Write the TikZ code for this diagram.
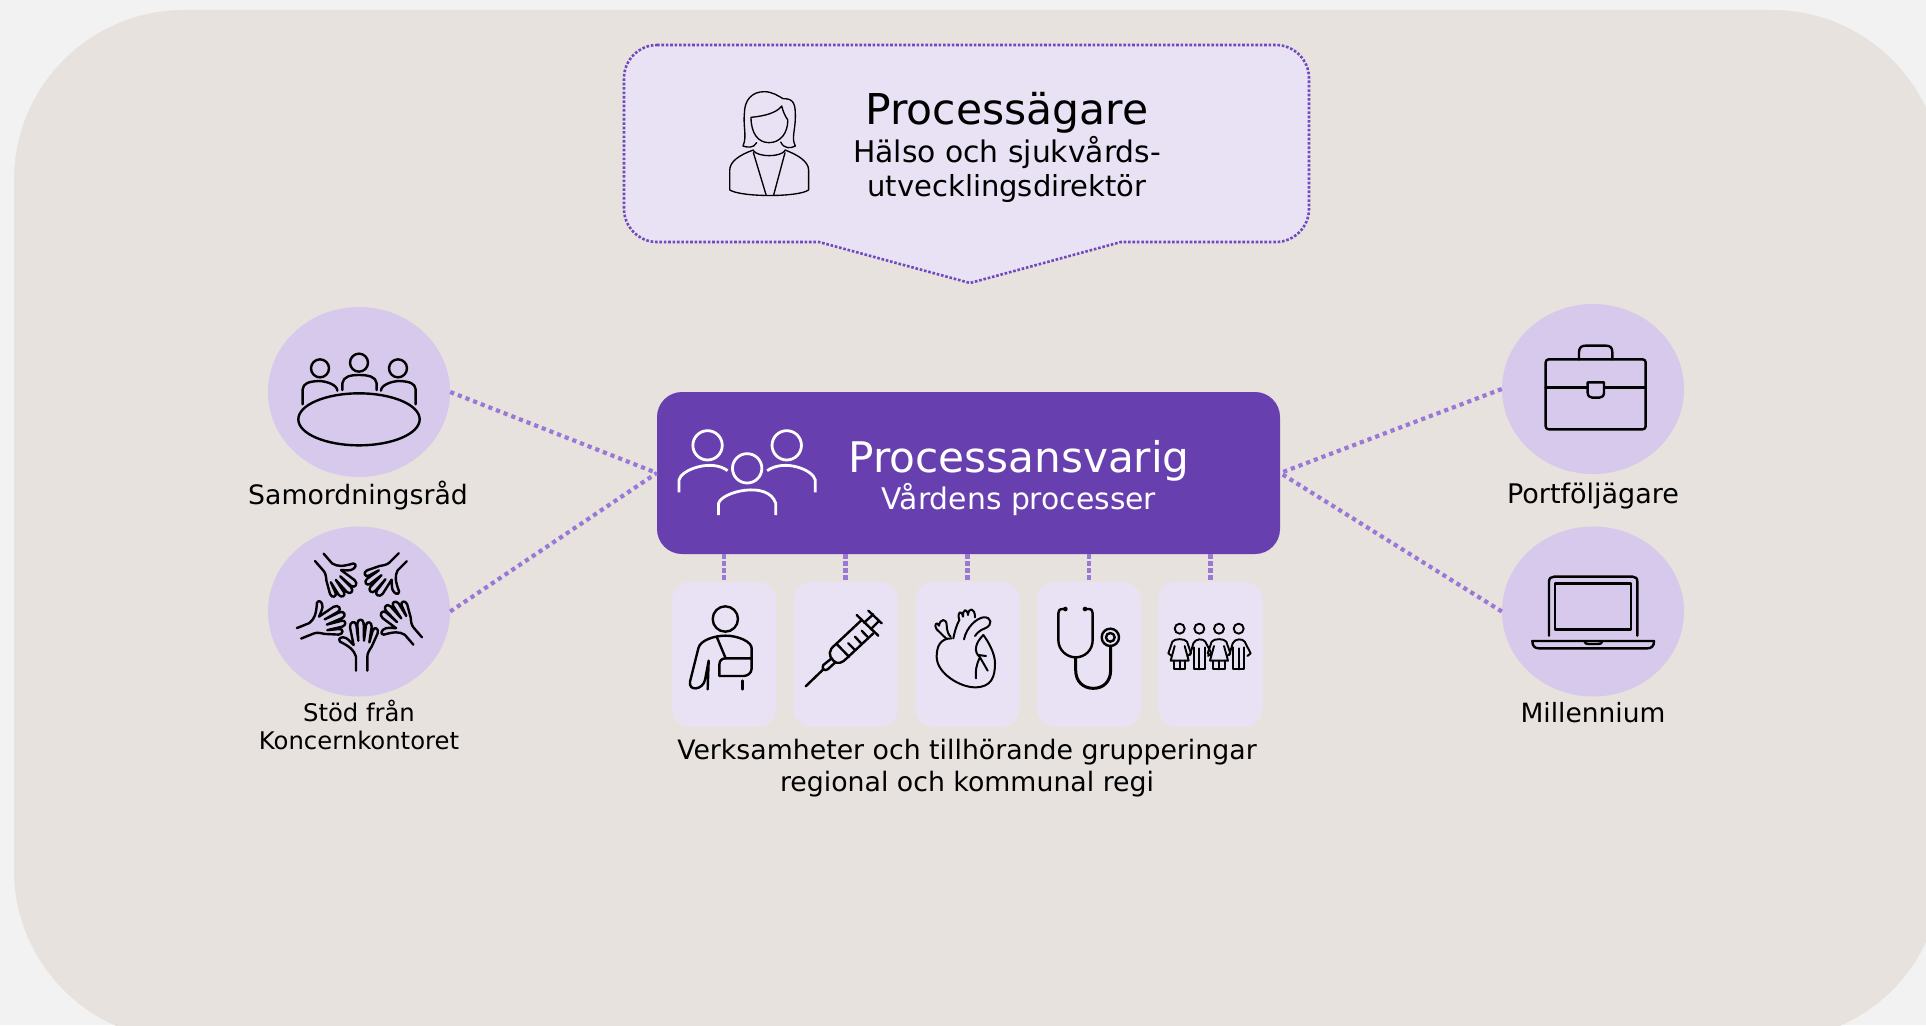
\documentclass[tikz,border=0pt]{standalone}
\usepackage{fontspec}
\setmainfont{DejaVu Sans}
\usetikzlibrary{shapes.geometric}
\definecolor{pagebg}{HTML}{F2F2F2}
\definecolor{panel}{HTML}{E7E2DE}
\definecolor{lilac}{HTML}{E9E2F5}
\definecolor{disc}{HTML}{D6C9EB}
\definecolor{violet}{HTML}{683FAE}
\definecolor{dotline}{HTML}{9A78D6}
\definecolor{edge}{HTML}{7048BF}
\newcommand{\fs}[1]{\fontsize{#1}{#1}\selectfont}
\tikzset{
  disc/.style={ellipse,fill=disc,minimum width=182pt,minimum height=170pt,inner sep=0pt},
  tile/.style={rectangle,fill=lilac,rounded corners=18pt,minimum width=104pt,minimum height=145pt,inner sep=0pt},
  link/.style={draw=dotline,line width=4.2pt,dash pattern=on 4.2pt off 4pt},
  stub/.style={draw=dotline,line width=4.5pt,dash pattern=on 4.5pt off 2.5pt},
  txt/.style={anchor=base,inner sep=0pt,text=black},
  ico/.style={draw=black,line width=2.4pt,line cap=round,line join=round},
  icothin/.style={draw=black,line width=1.35pt,line cap=round,line join=round},
  z3/.style={x=0.33333pt,y=-0.33333pt},
}
\newcommand{\handpath}{%
\draw[ico] (318,482) -- (318,440) .. controls (312,420) and (300,410) .. (270,395) .. controls (262,385) and (275,378) .. (288,384) .. controls (298,390) and (305,400) .. (311,405)
 -- (300,352) .. controls (298,335) and (316,330) .. (319,345) -- (325,392) -- (322,342) .. controls (322,325) and (340,325) .. (341,340) -- (342,392) -- (348,345) .. controls (350,332) and (366,335) .. (365,350) -- (358,397) -- (368,362) .. controls (372,348) and (388,355) .. (383,370) -- (365,410) .. controls (358,420) and (352,430) .. (352,440) -- (352,482);}
\begin{document}
\begin{tikzpicture}[x=1pt,y=-1pt]
\clip (0,0) rectangle (1926,1025);
\fill[pagebg] (0,0) rectangle (1926,1025);
\fill[panel,rounded corners=170pt] (14,10) rectangle (1942,1040);
% callout
\draw[fill=lilac,draw=edge,line width=2.6pt,dash pattern=on 2.6pt off 1.8pt]
  (657,45) -- (1276,45) .. controls (1294,45) and (1309,60) .. (1309,78)
  -- (1309,209) .. controls (1309,227) and (1294,242) .. (1276,242)
  -- (1121,242) -- (970,283) -- (819,242) -- (657,242)
  .. controls (639,242) and (624,227) .. (624,209) -- (624,78)
  .. controls (624,60) and (639,45) .. (657,45) -- cycle;
% person
\begin{scope}[shift={(600,30)},x=0.4719pt,y=-0.33333pt,icothin]
\draw (332,338) .. controls (325,356) and (312,352) .. (303,348) .. controls (312,320) and (303,290) .. (306,250) .. controls (306,210) and (322,185) .. (348,185) .. controls (365,185) and (378,198) .. (388,206) .. controls (412,205) and (414,225) .. (414,260) .. controls (414,300) and (405,325) .. (414,348) .. controls (405,355) and (390,358) .. (383,336);
\draw (320,262) .. controls (320,310) and (335,338) .. (358,338) .. controls (382,338) and (398,310) .. (398,270) .. controls (392,258) and (388,245) .. (385,228) .. controls (375,248) and (350,258) .. (320,262);
\draw (325,362) .. controls (335,382) and (382,382) .. (392,362);
\draw (325,360) .. controls (295,375) and (275,395) .. (275,420) -- (275,480) .. controls (300,502) and (420,502) .. (442,480) -- (442,420) .. controls (442,395) and (420,375) .. (392,360);
\draw (325,368) -- (352,495) (392,368) -- (368,495);
\end{scope}
\node[txt] (owner) at (1007,124) {\fs{42.5}Processägare};
\node[txt] (ownera) at (1007,162) {\fs{29.8}Hälso och sjukvårds-};
\node[txt] (ownerb) at (1007,196) {\fs{29}utvecklingsdirektör};
% discs
\node[disc] (sam) at (359,392) {};
\node[disc] (stod) at (359,611.5) {};
\node[disc] (port) at (1593,389) {};
\node[disc] (mill) at (1593,611.5) {};
% main box
\node[rectangle,fill=violet,rounded corners=25pt,minimum width=623pt,minimum height=162pt,inner sep=0pt] (main) at (968.5,473) {};
% tiles
\node[tile] (t1) at (724,654.5) {};
\node[tile] (t2) at (845.5,654.5) {};
\node[tile] (t3) at (967.5,654.5) {};
\node[tile] (t4) at (1089,654.5) {};
\node[tile] (t5) at (1210.5,654.5) {};
% connectors
\draw[link] (sam.east) -- (main.west);
\draw[link] (stod.east) -- (main.west);
\draw[link] (port.west) -- (main.east);
\draw[link] (mill.west) -- (main.east);
\foreach \t in {t1,t2,t3,t4,t5} \draw[stub] (\t.north |- main.south) -- (\t.north);
% main box icon
\begin{scope}[shift={(650,380)},x=0.40816pt,y=-0.33333pt,draw=white,line width=2.8pt]
\draw (141,196) ellipse[x radius=36,y radius=44];
\draw (335,196) ellipse[x radius=36,y radius=44];
\draw (238,265) ellipse[x radius=36,y radius=44];
\draw (71,337) -- (71,300) .. controls (75,270) and (150,235) .. (190,272);
\draw (287,272) .. controls (330,235) and (400,270) .. (405,300) -- (405,337);
\draw (168,405) -- (168,370) .. controls (175,335) and (290,300) .. (308,370) -- (308,405);
\end{scope}
\node[txt,text=white] (mainA) at (1019,472) {\fs{42.2}Processansvarig};
\node[txt,text=white] (mainB) at (1019,509) {\fs{29.8}Vårdens processer};
% table icon
\begin{scope}[shift={(250,290)},z3,ico]
\draw (327,388) ellipse[x radius=182,y radius=78];
\draw (210,235) circle[radius=27] (327,218) circle[radius=27] (444,235) circle[radius=27];
\draw (158,343) -- (158,298) .. controls (160,280) and (175,275) .. (205,273) .. controls (230,273) and (262,285) .. (262,302);
\draw (277,300) -- (277,280) .. controls (280,260) and (300,255) .. (327,255) .. controls (355,255) and (378,260) .. (380,280) -- (380,300);
\draw (497,343) -- (497,298) .. controls (495,280) and (480,275) .. (450,273) .. controls (425,273) and (393,285) .. (393,302);
\end{scope}
% hands icon
\begin{scope}[shift={(250,510)},z3]
\handpath
\begin{scope}[shift={(503,393)},rotate=40.7,yscale=0.93,shift={(-335,-482)}]\handpath\end{scope}
\begin{scope}[shift={(458,142)},rotate=135,yscale=0.92,shift={(-335,-482)}]\handpath\end{scope}
\begin{scope}[shift={(208,142)},rotate=-139,yscale=0.93,shift={(-335,-482)}]\handpath\end{scope}
\begin{scope}[shift={(147,370)},rotate=-68,yscale=0.97,shift={(-335,-482)}]\handpath\end{scope}
\end{scope}
% sling
\begin{scope}[shift={(660,570)},z3,ico]
\draw (196,147) circle[radius=38];
\draw (143,358) -- (146,272) (146,272) -- (135,330) .. controls (128,360) and (85,365) .. (90,335) -- (115,235) .. controls (120,210) and (165,197) .. (196,197) .. controls (235,197) and (275,215) .. (275,235) -- (275,295) .. controls (275,310) and (262,318) .. (250,318) -- (178,318) -- (178,285) .. controls (178,272) and (185,265) .. (197,265) -- (275,265);
\draw (170,200) -- (197,265);
\draw (248,358) -- (248,332);
\end{scope}
% syringe
\begin{scope}[shift={(660,570)},z3,ico]
\draw (437,349) -- (490,298);
\draw (515,265) -- (490,285) .. controls (484,295) and (492,305) .. (503,298) -- (525,278);
\draw (590,135) -- (655,197) (625,122) -- (665,160);
\draw (612,158) -- (640,133) (632,178) -- (655,155);
\draw (605,150) -- (525,225) .. controls (505,240) and (505,258) .. (520,272) .. controls (532,285) and (548,278) .. (560,265) -- (640,190);
\draw (530,222) -- (567,260) (565,220) -- (585,240) (585,200) -- (605,222) (605,182) -- (622,200);
\end{scope}
% heart
\begin{scope}[shift={(950,570)},z3,ico,line width=2pt]
\draw (5,205) .. controls (-30,205) and (-40,230) .. (-40,260) .. controls (-40,310) and (30,352) .. (75,352) .. controls (125,352) and (135,320) .. (135,280) .. controls (135,250) and (115,215) .. (100,195);
\draw (-10,207) -- (-40,178) .. controls (-50,160) and (-38,155) .. (-33,167) .. controls (-30,145) and (-10,145) .. (-10,165) .. controls (-10,180) and (-5,195) .. (2,200);
\draw (10,205) .. controls (15,180) and (20,165) .. (28,150) .. controls (20,125) and (35,118) .. (39,140) .. controls (38,115) and (52,115) .. (54,135) .. controls (55,112) and (75,112) .. (75,142);
\draw (42,208) .. controls (50,170) and (80,145) .. (100,142) .. controls (125,140) and (130,165) .. (105,175) .. controls (90,180) and (80,190) .. (75,198);
\draw (100,195) .. controls (75,220) and (70,245) .. (90,262) -- (113,302);
\draw (90,262) .. controls (78,285) and (76,305) .. (78,325);
\draw (85,255) -- (108,258);
\end{scope}
% stethoscope
\begin{scope}[shift={(950,570)},z3,ico]
\fill (346,117) circle[radius=7] (405,117) circle[radius=7];
\draw (346,117) -- (338,117) .. controls (328,117) and (325,122) .. (325,130) -- (325,210) .. controls (325,240) and (350,262) .. (377,262) .. controls (405,262) and (428,240) .. (428,210) -- (428,130) .. controls (428,122) and (425,117) .. (415,117) -- (405,117);
\draw[line width=3pt] (377,262) -- (377,300) .. controls (377,335) and (400,355) .. (430,355) .. controls (460,355) and (482,335) .. (482,300) -- (482,228);
\draw (481,202) circle[radius=26] (481,202) circle[radius=13];
\end{scope}
% family
\begin{scope}[shift={(950,570)},z3,ico,line width=1.9pt]
\foreach \c in {689,807}{
\draw (\c,176) circle[radius=15];
\draw (\c-24,258) -- (\c-34,250) -- (\c-22,215) .. controls (\c-15,205) and (\c+15,205) .. (\c+22,215) -- (\c+34,250) -- (\c+24,258);
\draw (\c-15,228) -- (\c-27,272) -- (\c+27,272) -- (\c+15,228);
\draw (\c-17,272) -- (\c-17,298) -- (\c+17,298) -- (\c+17,272) (\c,272) -- (\c,298);
}
\foreach \c in {748,866}{
\draw (\c,176) circle[radius=15];
\draw (\c-28,255) -- (\c-18,220) .. controls (\c-12,205) and (\c+12,205) .. (\c+18,215) -- (\c+36,250) -- (\c+26,258);
\draw (\c-17,232) -- (\c-17,298) -- (\c+17,298) -- (\c+17,232);
\draw (\c,235) -- (\c,298);
}
\end{scope}
% briefcase
\begin{scope}[shift={(1490,290)},z3,ico]
\draw[rounded corners=3pt] (167,208) rectangle (467,418);
\draw (267,208) -- (267,187) .. controls (267,172) and (275,167) .. (287,167) -- (347,167) .. controls (360,167) and (367,172) .. (367,187) -- (367,208);
\draw (167,293) -- (293,293) (342,293) -- (467,293);
\draw (293,277) -- (342,277) -- (342,308) .. controls (342,318) and (335,323) .. (328,323) -- (307,323) .. controls (300,323) and (293,318) .. (293,308) -- cycle;
\end{scope}
% laptop
\begin{scope}[shift={(1490,290)},z3,ico]
\draw (177,1037) -- (177,875) .. controls (177,865) and (183,860) .. (192,860) -- (428,860) .. controls (437,860) and (442,865) .. (442,875) -- (442,1037);
\draw (195,880) rectangle (423,1018);
\draw (127,1053) -- (492,1053) .. controls (492,1068) and (485,1075) .. (472,1075) -- (147,1075) .. controls (134,1075) and (127,1068) .. (127,1053) -- cycle;
\draw (283,1053) .. controls (285,1060) and (288,1062) .. (295,1062) -- (325,1062) .. controls (332,1062) and (335,1060) .. (337,1053);
\end{scope}
% labels
\node[txt] (lsam) at (358,504) {\fs{26.7}Samordningsråd};
\node[txt] (lsa) at (359,721) {\fs{24.3}Stöd från};
\node[txt] (lsb) at (359,749) {\fs{24.3}Koncernkontoret};
\node[txt] (lport) at (1593,503) {\fs{27}Portföljägare};
\node[txt] (lmill) at (1593,722) {\fs{26.5}Millennium};
\node[txt] (lva) at (967,759) {\fs{26.75}Verksamheter och tillhörande grupperingar};
\node[txt] (lvb) at (967,791) {\fs{26.75}regional och kommunal regi};
\end{tikzpicture}
\end{document}
